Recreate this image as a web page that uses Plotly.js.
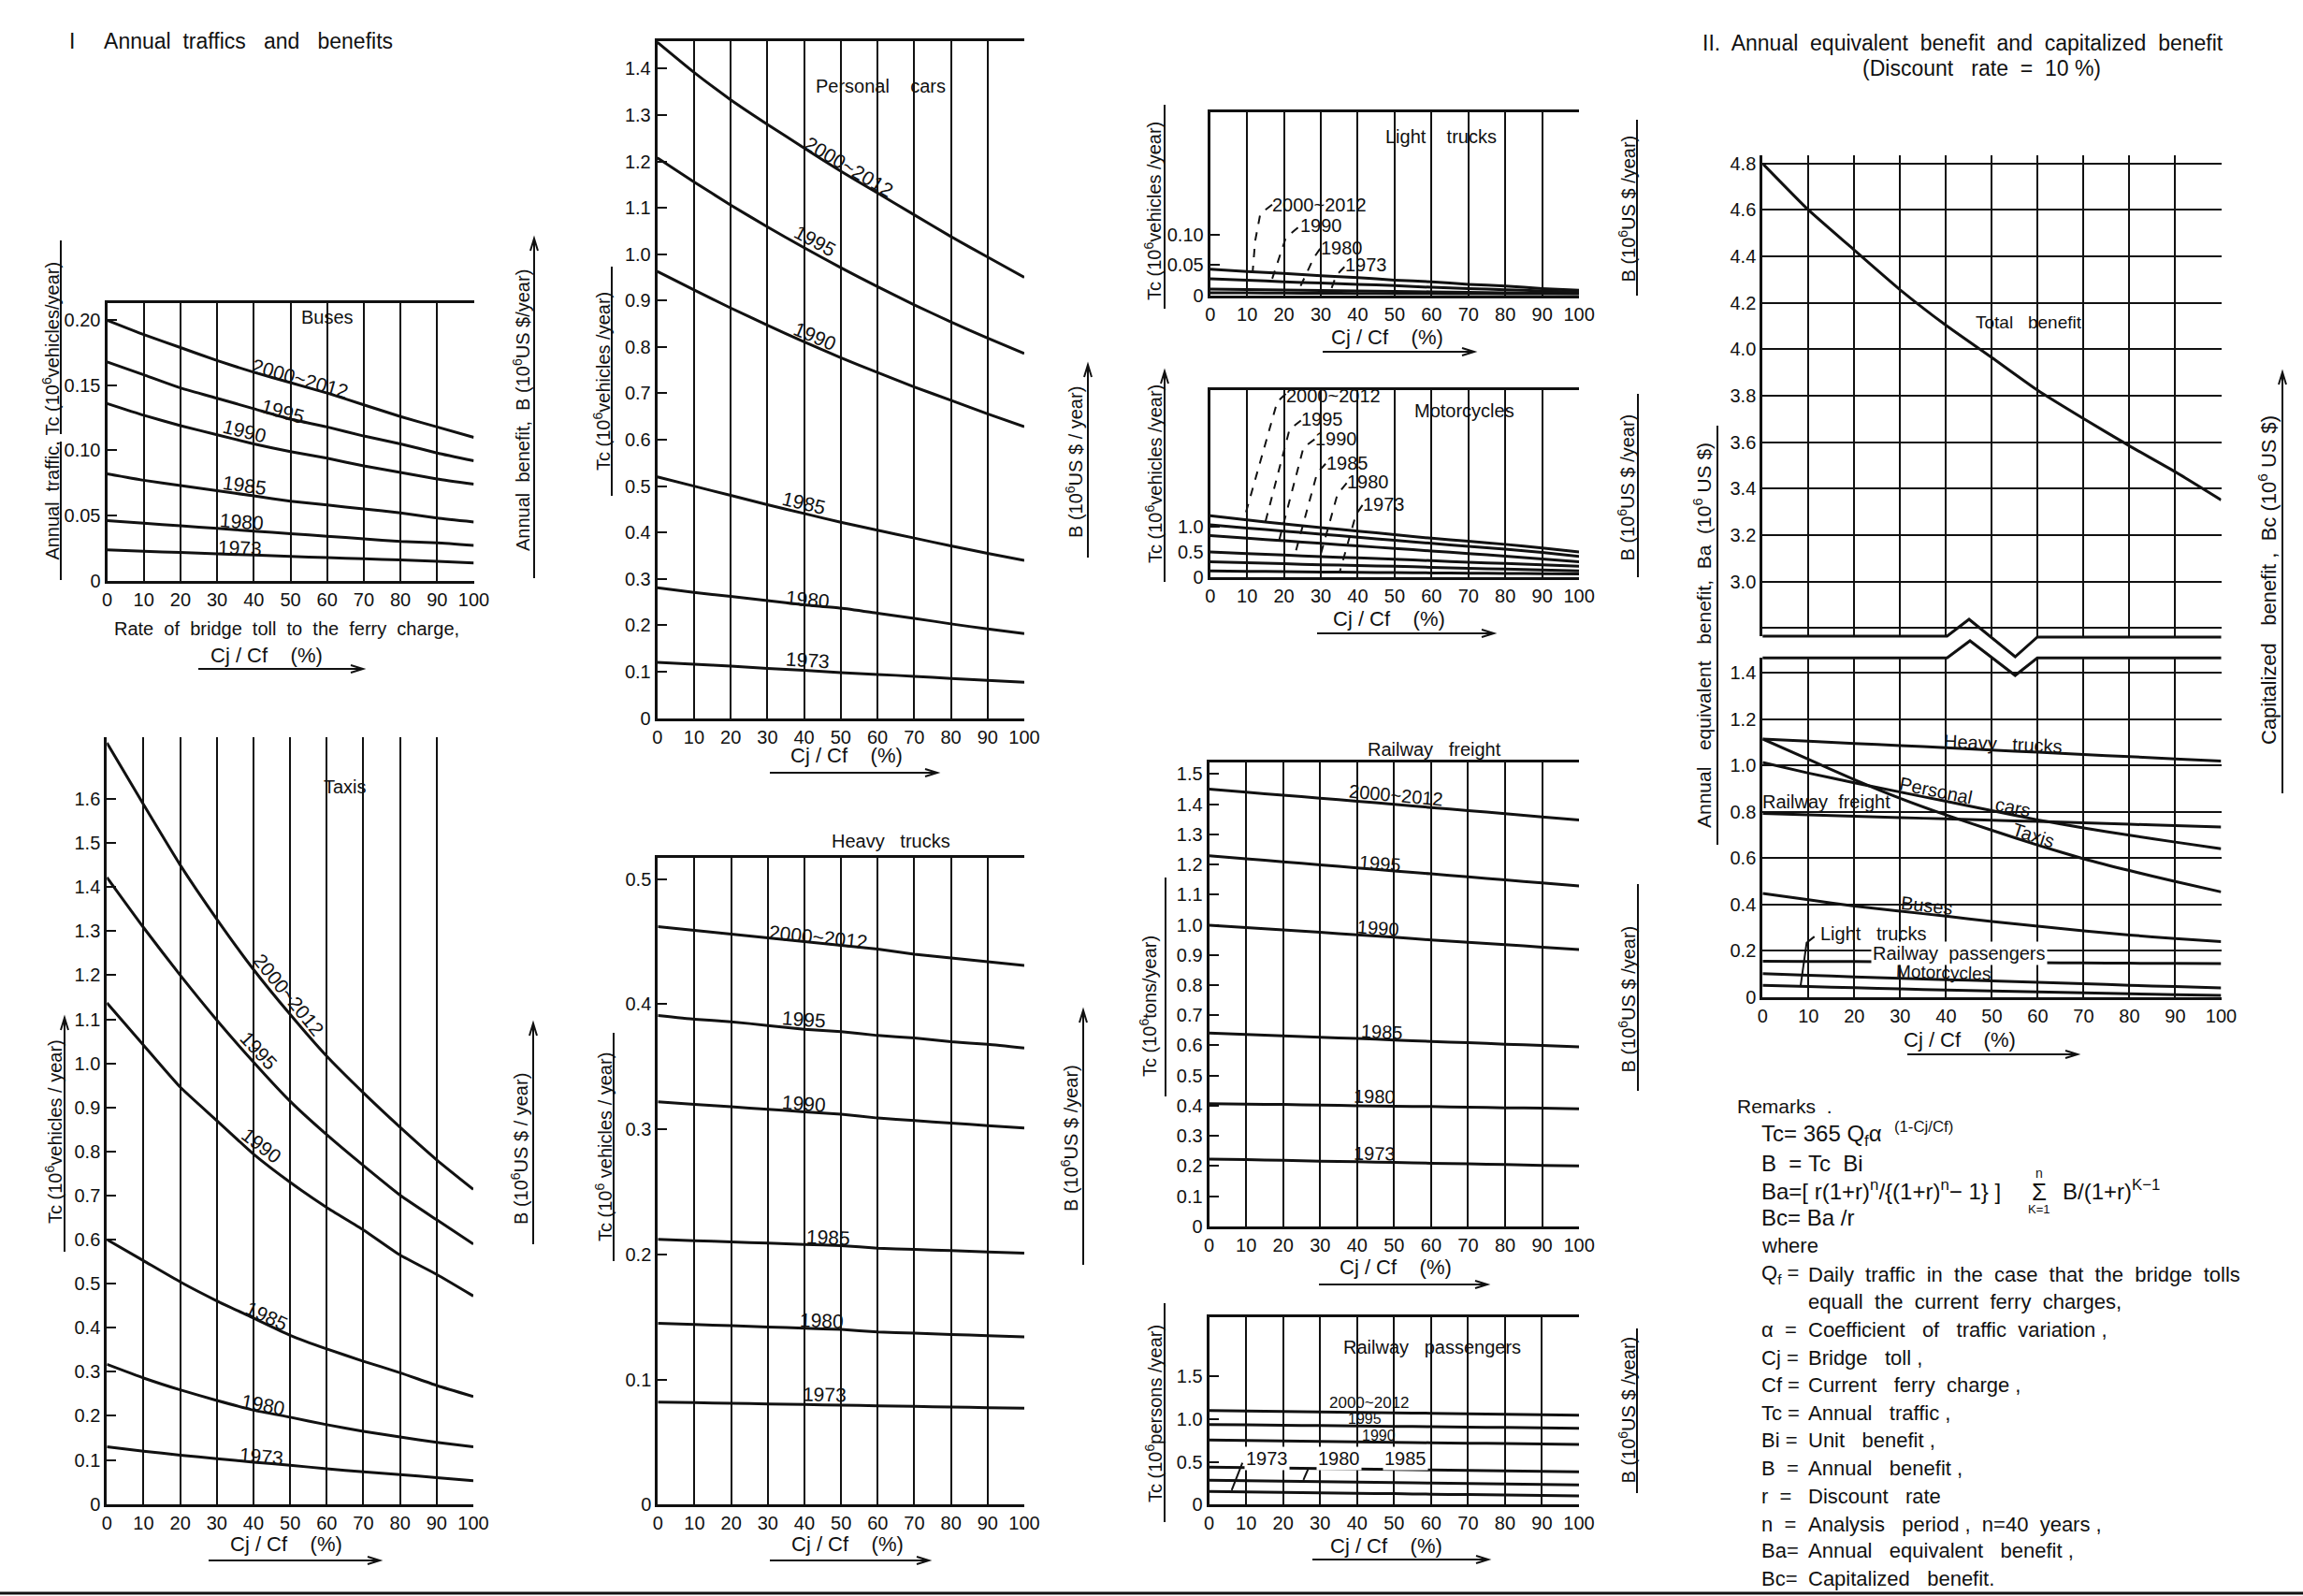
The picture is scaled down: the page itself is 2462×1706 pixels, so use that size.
<!DOCTYPE html>
<html><head><meta charset="utf-8">
<script src="https://cdn.plot.ly/plotly-3.0.1.min.js"></script>
<style>html,body{margin:0;padding:0;background:#fff}#chart{width:2462px;height:1706px}</style>
</head><body><div id="chart"></div>
<script>
// ================= DATA =================
const cjcf = [0,10,20,30,40,50,60,70,80,90,100];            // Cj/Cf (%)
const xTicks = [0,10,20,30,40,50,60,70,80,90,100];
const xTickText = ['0','10','20','30','40','50','60','70','80','90','100'];

// Buses, Tc (10^6 vehicles/year)
const bus2000 = [0.200,0.189,0.179,0.169,0.160,0.152,0.144,0.135,0.126,0.118,0.110];
const bus1995 = [0.168,0.158,0.148,0.140,0.132,0.124,0.118,0.111,0.105,0.098,0.092];
const bus1990 = [0.136,0.127,0.119,0.112,0.105,0.099,0.094,0.088,0.083,0.078,0.074];
const bus1985 = [0.082,0.077,0.073,0.069,0.065,0.061,0.058,0.055,0.052,0.048,0.045];
const bus1980 = [0.046,0.044,0.042,0.040,0.038,0.036,0.034,0.032,0.030,0.029,0.027];
const bus1973 = [0.0235,0.0225,0.0215,0.0205,0.0195,0.0185,0.0176,0.0167,0.0158,0.0147,0.0135];
const busTcTicks = [0,0.05,0.10,0.15,0.20];
const busTcText = ['0','0.05','0.10','0.15','0.20'];
const busBTicks = [0,0.2,0.4,0.6,0.8,1.0,1.2];
const busBText = ['0','0.2','0.4','0.6','0.8','1.0','1.2'];

// Taxis
const taxi2000 = [1.727,1.587,1.450,1.327,1.213,1.111,1.016,0.933,0.855,0.781,0.714];
const taxi1995 = [1.422,1.308,1.200,1.098,1.003,0.914,0.838,0.768,0.701,0.645,0.590];
const taxi1990 = [1.137,1.041,0.946,0.870,0.794,0.730,0.673,0.622,0.565,0.521,0.472];
const taxi1985 = [0.600,0.552,0.504,0.461,0.422,0.383,0.352,0.324,0.298,0.269,0.244];
const taxi1980 = [0.317,0.286,0.259,0.235,0.213,0.197,0.180,0.165,0.152,0.140,0.130];
const taxi1973 = [0.130,0.120,0.111,0.103,0.095,0.088,0.080,0.073,0.067,0.060,0.053];
const taxiTcTicks = [0,0.1,0.2,0.3,0.4,0.5,0.6,0.7,0.8,0.9,1.0,1.1,1.2,1.3,1.4,1.5,1.6];
const taxiTcText = ['0','0.1','0.2','0.3','0.4','0.5','0.6','0.7','0.8','0.9','1.0','1.1','1.2','1.3','1.4','1.5','1.6'];
const taxiBTicks = [0,0.2,0.4,0.6,0.8,1.0,1.2,1.4,1.6,1.8,2.0,2.2,2.4,2.6,2.8,3.0,3.2];
const taxiBText = ['0','0.2','0.4','0.6','0.8','1.0','1.2','1.4','1.6','1.8','2.0','2.2','2.4','2.6','2.8','3.0','3.2'];

// Personal cars
const car2000 = [1.457,1.392,1.333,1.280,1.229,1.179,1.132,1.085,1.038,0.994,0.950];
const car1995 = [1.208,1.156,1.106,1.059,1.014,0.971,0.930,0.891,0.854,0.819,0.786];
const car1990 = [0.963,0.923,0.884,0.847,0.811,0.777,0.745,0.714,0.685,0.656,0.628];
const car1985 = [0.520,0.500,0.480,0.460,0.441,0.422,0.405,0.388,0.371,0.355,0.340];
const car1980 = [0.281,0.271,0.262,0.253,0.244,0.237,0.226,0.215,0.203,0.192,0.182];
const car1973 = [0.120,0.116,0.112,0.107,0.103,0.098,0.094,0.090,0.085,0.081,0.077];
const carTcTicks = [0,0.1,0.2,0.3,0.4,0.5,0.6,0.7,0.8,0.9,1.0,1.1,1.2,1.3,1.4];
const carTcText = ['0','0.1','0.2','0.3','0.4','0.5','0.6','0.7','0.8','0.9','1.0','1.1','1.2','1.3','1.4'];
const carBTicks = [0,0.2,0.4,0.6,0.8,1.0,1.2,1.4,1.6,1.8,2.0,2.2,2.4,2.6,2.8];
const carBText = ['0','0.2','0.4','0.6','0.8','1.0','1.2','1.4','1.6','1.8','2.0','2.2','2.4','2.6','2.8'];

// Heavy trucks
const ht2000 = [0.462,0.459,0.456,0.453,0.450,0.447,0.444,0.440,0.437,0.434,0.431];
const ht1995 = [0.391,0.388,0.386,0.383,0.380,0.378,0.375,0.373,0.370,0.368,0.365];
const ht1990 = [0.322,0.320,0.318,0.316,0.314,0.312,0.309,0.307,0.305,0.303,0.301];
const ht1985 = [0.212,0.211,0.210,0.209,0.208,0.207,0.205,0.204,0.203,0.202,0.201];
const ht1980 = [0.145,0.144,0.143,0.142,0.141,0.140,0.138,0.137,0.136,0.135,0.134];
const ht1973 = [0.082,0.0815,0.081,0.0805,0.080,0.0795,0.079,0.0785,0.078,0.0775,0.077];
const htTcTicks = [0,0.1,0.2,0.3,0.4,0.5];
const htTcText = ['0','0.1','0.2','0.3','0.4','0.5'];
const htBTicks = [0,0.2,0.4,0.6,0.8,1.0,1.2,1.4,1.6,1.8,2.0,2.2,2.4,2.6];
const htBText = ['0','0.2','0.4','0.6','0.8','1.0','1.2','1.4','1.6','1.8','2.0','2.2','2.4','2.6'];

// Light trucks
const lt2000 = [0.043,0.039,0.036,0.032,0.029,0.025,0.022,0.018,0.015,0.011,0.008];
const lt1990 = [0.027,0.025,0.022,0.020,0.018,0.016,0.013,0.011,0.009,0.007,0.005];
const lt1980 = [0.010,0.0093,0.0085,0.0078,0.0070,0.0063,0.0055,0.0048,0.0040,0.0033,0.0025];
const lt1973 = [0.0040,0.0037,0.0034,0.0031,0.0028,0.0025,0.0022,0.0019,0.0016,0.0013,0.0010];
const ltTcTicks = [0,0.05,0.10];
const ltTcText = ['0','0.05','0.10'];
const ltBTicks = [0,0.2,0.4,0.6];
const ltBText = ['0','0.2','0.4','0.6'];

// Motorcycles
const mc2000 = [1.213,1.130,1.050,0.980,0.910,0.840,0.770,0.710,0.650,0.580,0.500];
const mc1995 = [1.033,0.970,0.910,0.850,0.790,0.730,0.670,0.610,0.555,0.490,0.413];
const mc1990 = [0.820,0.770,0.720,0.670,0.620,0.570,0.520,0.470,0.420,0.365,0.310];
const mc1985 = [0.500,0.470,0.440,0.410,0.385,0.360,0.330,0.300,0.275,0.250,0.220];
const mc1980 = [0.310,0.290,0.270,0.250,0.235,0.220,0.200,0.180,0.165,0.150,0.130];
const mc1973 = [0.130,0.122,0.115,0.108,0.102,0.096,0.090,0.085,0.080,0.075,0.070];
const mcTcTicks = [0,0.5,1.0];
const mcTcText = ['0','0.5','1.0'];
const mcBTicks = [0,0.2,0.4,0.6];
const mcBText = ['0','0.2','0.4','0.6'];

// Railway freight, Tc (10^6 tons/year)
const rf2000 = [1.450,1.440,1.430,1.420,1.410,1.400,1.389,1.379,1.369,1.358,1.348];
const rf1995 = [1.229,1.219,1.209,1.199,1.189,1.179,1.169,1.159,1.149,1.139,1.129];
const rf1990 = [0.999,0.991,0.983,0.975,0.967,0.959,0.950,0.942,0.934,0.926,0.918];
const rf1985 = [0.641,0.636,0.632,0.627,0.623,0.618,0.613,0.609,0.604,0.600,0.595];
const rf1980 = [0.407,0.405,0.404,0.402,0.400,0.398,0.397,0.395,0.393,0.392,0.390];
const rf1973 = [0.223,0.221,0.219,0.216,0.214,0.212,0.209,0.207,0.205,0.202,0.200];
const rfTcTicks = [0,0.1,0.2,0.3,0.4,0.5,0.6,0.7,0.8,0.9,1.0,1.1,1.2,1.3,1.4,1.5];
const rfTcText = ['0','0.1','0.2','0.3','0.4','0.5','0.6','0.7','0.8','0.9','1.0','1.1','1.2','1.3','1.4','1.5'];
const rfBTicks = [0,0.2,0.4,0.6,0.8,1.0,1.2,1.4,1.6,1.8,2.0];
const rfBText = ['0','0.2','0.4','0.6','0.8','1.0','1.2','1.4','1.6','1.8','2.0'];

// Railway passengers, Tc (10^6 persons/year)
const rp2000 = [1.102,1.096,1.091,1.085,1.080,1.075,1.069,1.064,1.058,1.053,1.047];
const rp1995 = [0.938,0.934,0.929,0.925,0.920,0.916,0.912,0.907,0.903,0.898,0.894];
const rp1990 = [0.755,0.750,0.745,0.740,0.735,0.730,0.724,0.719,0.714,0.709,0.704];
const rp1985 = [0.438,0.433,0.427,0.422,0.416,0.411,0.405,0.400,0.394,0.389,0.383];
const rp1980 = [0.285,0.280,0.274,0.269,0.263,0.258,0.252,0.247,0.241,0.236,0.230];
const rp1973 = [0.153,0.148,0.143,0.138,0.133,0.128,0.122,0.117,0.112,0.107,0.102];
const rpTcTicks = [0,0.5,1.0,1.5];
const rpTcText = ['0','0.5','1.0','1.5'];
const rpBTicks = [0,0.2,0.4,0.6];
const rpBText = ['0','0.2','0.4','0.6'];

// II. Annual equivalent benefit Ba (10^6 US$)
const baTotal = [4.800,4.600,4.427,4.256,4.103,3.964,3.823,3.701,3.584,3.472,3.351];
const baHeavy = [1.115,1.106,1.096,1.087,1.077,1.067,1.058,1.048,1.039,1.029,1.020];
const baTaxi  = [1.115,1.027,0.940,0.859,0.787,0.721,0.657,0.598,0.547,0.500,0.455];
const baCar   = [1.014,0.968,0.926,0.886,0.846,0.806,0.766,0.731,0.700,0.670,0.641];
const baRf    = [0.794,0.788,0.782,0.776,0.770,0.764,0.759,0.753,0.747,0.741,0.735];
const baBus   = [0.448,0.421,0.394,0.372,0.350,0.327,0.307,0.287,0.269,0.253,0.240];
const baRp    = [0.156,0.155,0.154,0.153,0.152,0.151,0.149,0.148,0.147,0.146,0.145];
const baMc    = [0.102,0.095,0.088,0.082,0.076,0.071,0.065,0.059,0.052,0.046,0.040];
const baLt    = [0.051,0.046,0.041,0.036,0.031,0.027,0.023,0.019,0.015,0.011,0.008];
const baTopTicks = [2.8,3.0,3.2,3.4,3.6,3.8,4.0,4.2,4.4,4.6,4.8];
const baTopText = ['','3.0','3.2','3.4','3.6','3.8','4.0','4.2','4.4','4.6','4.8'];
const bcTopTicks = [30,32,34,36,38,40,42,44,46];
const bcTopText = ['30','32','34','36','38','40','42','44','46'];
const baLowTicks = [0,0.2,0.4,0.6,0.8,1.0,1.2,1.4];
const baLowText = ['0','0.2','0.4','0.6','0.8','1.0','1.2','1.4'];
const bcLowTicks = [0,2,4,6,8,10,12,14];
const bcLowText = ['0','2','4','6','8','10','12','14'];

// ================= LAYOUT HELPERS =================
const W = 2462, H = 1706;
const fx = p => p / W;
const fy = p => 1 - p / H;
const FONT = '"Liberation Sans", Arial, sans-serif';
const INK = '#111';
const S = '\u00a0';

const traces = [];
const layout = {
  width: W, height: H, margin: {l:0, r:0, t:0, b:0},
  paper_bgcolor: '#fff', plot_bgcolor: 'rgba(0,0,0,0)', showlegend: false,
  font: {family: FONT, size: 20, color: INK},
  annotations: [], shapes: []
};

function ann(text, xp, yp, o) {
  layout.annotations.push(Object.assign({
    text: text, x: fx(xp), y: fy(yp), xref: 'paper', yref: 'paper', showarrow: false,
    xanchor: 'center', yanchor: 'middle', font: {family: FONT, size: 20, color: INK}
  }, o || {}));
}
function pathPx(pts, w) {
  const d = pts.map((p, i) => (i ? 'L' : 'M') + fx(p[0]) + ',' + fy(p[1])).join(' ');
  layout.shapes.push({type: 'path', xref: 'paper', yref: 'paper', path: d, line: {color: INK, width: w || 3}});
}
function arrowH(x1, x2, yp) {           // under-line of an x title, head on the right
  pathPx([[x1, yp], [x2, yp]], 2);
  pathPx([[x2 - 13, yp - 4], [x2, yp], [x2 - 13, yp + 4]], 2);
}
function lineV(xp, y1, y2, arrow) {     // under-line of a rotated y title, optional head on top
  pathPx([[xp, y1], [xp, y2]], 2);
  if (arrow) pathPx([[xp - 4, y2 + 13], [xp, y2], [xp + 4, y2 + 13]], 2);
}

function addPanel(k, p) {
  const xid = k === 1 ? 'x' : 'x' + k;
  const yl = 2 * k - 1, yr = 2 * k;
  const ylid = yl === 1 ? 'y' : 'y' + yl;
  const dom = [fy(p.B), fy(p.T)];
  const pxX = (p.R - p.L) / 100;
  const pxY = (p.B - p.T) / (p.lr[1] - p.lr[0]);
  layout[k === 1 ? 'xaxis' : 'xaxis' + k] = {
    domain: [fx(p.L), fx(p.R)], anchor: ylid, range: [0, 100],
    tickmode: 'array', tickvals: xTicks, ticktext: xTickText, showticklabels: p.xLabels !== false,
    showgrid: true, gridcolor: INK, gridwidth: 2,
    showline: p.xLine !== false, linecolor: INK, linewidth: 3, mirror: !!p.mirror,
    ticks: '', zeroline: false, fixedrange: true, tickfont: {size: 20, color: INK}
  };
  layout[yl === 1 ? 'yaxis' : 'yaxis' + yl] = {
    domain: dom, anchor: xid, range: p.lr, tickmode: 'array', tickvals: p.lt, ticktext: p.ltt,
    showgrid: !!p.lgrid, gridcolor: INK, gridwidth: 2,
    showline: true, linecolor: INK, linewidth: 3,
    ticks: 'inside', ticklen: 10, tickwidth: 2, tickcolor: INK,
    zeroline: false, fixedrange: true, tickfont: {size: 20, color: INK}
  };
  const ry = {
    domain: dom, anchor: xid, overlaying: ylid, side: 'right', range: p.rr,
    tickmode: 'array', tickvals: p.rt, ticktext: p.rtt,
    showgrid: !!p.rgrid, gridcolor: INK, gridwidth: 2,
    showline: true, linecolor: INK, linewidth: 3,
    ticks: 'inside', ticklen: 8, tickwidth: 2, tickcolor: INK,
    zeroline: false, fixedrange: true, tickfont: {size: 20, color: INK}
  };
  if (p.rminor) ry.minor = {ticks: 'inside', ticklen: 6, tickwidth: 2, tickcolor: INK, tickmode: 'linear', tick0: 0, dtick: p.rminor, showgrid: false};
  layout['yaxis' + yr] = ry;

  p.series.forEach(s => traces.push({
    x: cjcf, y: s, xaxis: xid, yaxis: ylid, mode: 'lines',
    line: {color: INK, width: 3, shape: 'spline', smoothing: 0.5}, hoverinfo: 'skip'
  }));
  (p.labels || []).forEach(l => {
    let ang = 0;
    if (l[3]) {
      const i = Math.min(9, Math.floor(l[1] / 10));
      const slope = (l[3][i + 1] - l[3][i]) / 10;
      ang = Math.atan(-slope * pxY / pxX) * 180 / Math.PI;
    }
    const a = {text: l[0], x: l[1], y: l[2], xref: xid, yref: ylid, showarrow: false,
      textangle: ang, font: {family: FONT, size: l[4] || 21, color: INK}};
    if (l[5]) { a.bgcolor = '#fff'; a.borderpad = 1; }
    layout.annotations.push(a);
  });
  (p.leaders || []).forEach(ld => {
    const d = ld.pts.map((q, i) => (i ? 'L' : 'M') + q[0] + ',' + q[1]).join(' ');
    layout.shapes.push({type: 'path', xref: xid, yref: ylid, path: d,
      line: {color: INK, width: 2, dash: ld.dash ? 'dash' : 'solid'}});
  });
}

// ================= PANELS =================
addPanel(1, { // Buses
  L: 114.5, R: 506.5, T: 323.5, B: 620.5, mirror: true,
  lr: [0, 0.2135], lt: busTcTicks, ltt: busTcText,
  rr: [0, 1.2], rt: busBTicks, rtt: busBText, rgrid: true, rminor: 0.1,
  series: [bus2000, bus1995, bus1990, bus1985, bus1980, bus1973],
  labels: [['Buses', 60, 0.2026, null, 20],
    ['2000~2012', 52.6, 0.155, bus2000], ['1995', 47.9, 0.130, bus1995], ['1990', 37.4, 0.115, bus1990],
    ['1985', 37.4, 0.073, bus1985], ['1980', 36.7, 0.045, bus1980], ['1973', 36.3, 0.025, bus1973]]
});
addPanel(2, { // Taxis
  L: 114.3, R: 506, T: 788, B: 1607.7,
  lr: [0, 1.74], lt: taxiTcTicks, ltt: taxiTcText,
  rr: [0, 3.322], rt: taxiBTicks, rtt: taxiBText, rgrid: true, rminor: 0.1,
  series: [taxi2000, taxi1995, taxi1990, taxi1985, taxi1980, taxi1973],
  labels: [['Taxis', 65, 1.628, null, 20],
    ['2000~2012', 49.7, 1.156, taxi2000], ['1995', 41.3, 1.029, taxi1995], ['1990', 42.2, 0.813, taxi1990],
    ['1985', 43.6, 0.428, taxi1985], ['1980', 42.7, 0.226, taxi1980], ['1973', 42.2, 0.108, taxi1973]]
});
addPanel(3, { // Personal cars
  L: 702.7, R: 1095, T: 43.7, B: 767.5, mirror: true,
  lr: [0, 1.46], lt: carTcTicks, ltt: carTcText,
  rr: [0, 2.92], rt: carBTicks, rtt: carBText, rgrid: true, rminor: 0.1,
  series: [car2000, car1995, car1990, car1985, car1980, car1973],
  labels: [['Personal' + S + S + S + ' cars', 60.9, 1.362, null, 20],
    ['2000~2012', 52.4, 1.189, car2000], ['1995', 43.1, 1.029, car1995], ['1990', 43.1, 0.824, car1990],
    ['1985', 39.9, 0.463, car1985], ['1980', 41.1, 0.257, car1980], ['1973', 41.1, 0.125, car1973]]
});
addPanel(4, { // Heavy trucks
  L: 703.3, R: 1095, T: 917, B: 1608.3, mirror: true,
  lr: [0, 0.517], lt: htTcTicks, ltt: htTcText,
  rr: [0, 2.79], rt: htBTicks, rtt: htBText, rgrid: true, rminor: 0.1,
  series: [ht2000, ht1995, ht1990, ht1985, ht1980, ht1973],
  labels: [['2000~2012', 43.8, 0.454, ht2000], ['1995', 40, 0.388, ht1995], ['1990', 40, 0.321, ht1990],
    ['1985', 46.4, 0.214, ht1985], ['1980', 44.7, 0.147, ht1980], ['1973', 45.5, 0.088, ht1973]]
});
addPanel(5, { // Light trucks
  L: 1293.7, R: 1688.1, T: 120.2, B: 315.5, mirror: true,
  lr: [0, 0.303], lt: ltTcTicks, ltt: ltTcText,
  rr: [0, 0.8], rt: ltBTicks, rtt: ltBText, rgrid: true, rminor: 0.1,
  series: [lt2000, lt1990, lt1980, lt1973],
  labels: [['Light' + S + S + S + ' trucks', 62.6, 0.263, null, 20],
    ['2000~2012', 29.5, 0.150, null, 20], ['1990', 30, 0.116, null, 20], ['1980', 35.7, 0.079, null, 20], ['1973', 42.3, 0.050, null, 20]],
  leaders: [
    {dash: true, pts: [[16.8, 0.150], [13.6, 0.135], [12.2, 0.090], [11.5, 0.037]]},
    {dash: true, pts: [[23.8, 0.112], [20.5, 0.095], [16.7, 0.025]]},
    {dash: true, pts: [[29.8, 0.077], [28.1, 0.062], [23.8, 0.006]]},
    {dash: true, pts: [[36.4, 0.047], [34.2, 0.033], [32.4, 0.003]]}]
});
addPanel(6, { // Motorcycles
  L: 1293.7, R: 1688.1, T: 417.3, B: 617.3, mirror: true,
  lr: [0, 3.67], lt: mcTcTicks, ltt: mcTcText,
  rr: [0, 0.8], rt: mcBTicks, rtt: mcBText, rgrid: true, rminor: 0.1,
  series: [mc2000, mc1995, mc1990, mc1985, mc1980, mc1973],
  labels: [['Motorcycles', 68.8, 3.27, null, 20],
    ['2000~2012', 33.3, 3.57, null, 20], ['1995', 30.5, 3.10, null, 20], ['1990', 34.2, 2.73, null, 20],
    ['1985', 37.1, 2.25, null, 20], ['1980', 42.8, 1.87, null, 20], ['1973', 47, 1.43, null, 20]],
  leaders: [
    {dash: true, pts: [[20.5, 3.60], [18.2, 3.45], [9.2, 1.15]]},
    {dash: true, pts: [[24.6, 3.08], [21.5, 2.90], [14.4, 0.93]]},
    {dash: true, pts: [[28.3, 2.71], [25.3, 2.55], [18.6, 0.70]]},
    {dash: true, pts: [[31.3, 2.23], [29.0, 2.05], [22.9, 0.43]]},
    {dash: true, pts: [[37.0, 1.85], [34.5, 1.63], [29.5, 0.33]]},
    {dash: true, pts: [[41.3, 1.42], [39.5, 1.23], [35.2, 0.13]]}]
});
addPanel(7, { // Railway freight
  L: 1292.6, R: 1688.1, T: 815.2, B: 1310.8, mirror: true,
  lr: [0, 1.538], lt: rfTcTicks, ltt: rfTcText,
  rr: [0, 2.0], rt: rfBTicks, rtt: rfBText, rgrid: true, rminor: 0.1,
  series: [rf2000, rf1995, rf1990, rf1985, rf1980, rf1973],
  labels: [['2000~2012', 50.5, 1.429, rf2000, 20], ['1995', 46.2, 1.203, rf1995, 20], ['1990', 45.8, 0.989, rf1990, 20],
    ['1985', 46.7, 0.645, rf1985, 20], ['1980', 44.8, 0.431, rf1980, 20], ['1973', 44.8, 0.241, rf1973, 20]]
});
addPanel(8, { // Railway passengers
  L: 1292.6, R: 1688, T: 1408.3, B: 1608.3, mirror: true,
  lr: [0, 2.19], lt: rpTcTicks, ltt: rpTcText,
  rr: [0, 0.811], rt: rpBTicks, rtt: rpBText, rgrid: true, rminor: 0.1,
  series: [rp2000, rp1995, rp1990, rp1985, rp1980, rp1973],
  labels: [['Railway' + S + S + ' passengers', 60.4, 1.84, null, 20],
    ['2000~2012', 43.4, 1.19, null, 17], ['1995', 42, 1.0, null, 16], ['1990', 45.8, 0.81, null, 16],
    ['1973', 15.7, 0.54, null, 20, true], ['1980', 35.1, 0.54, null, 20, true], ['1985', 53, 0.54, null, 20, true]],
  leaders: [
    {pts: [[9.0, 0.49], [6.1, 0.17]]},
    {pts: [[26.9, 0.43], [25.5, 0.29]]}]
});
addPanel(9, { // Total benefit (upper part of broken axis)
  L: 1884.3, R: 2374.5, T: 166, B: 680, xLine: false, xLabels: false,
  lr: [2.7646, 4.8354], lt: baTopTicks, ltt: baTopText, lgrid: true,
  rr: [27.646, 48.354], rt: bcTopTicks, rtt: bcTopText, rminor: 1,
  series: [baTotal],
  labels: [['Total' + S + S + ' benefit', 58.1, 4.115, null, 19]]
});
addPanel(10, { // Per-vehicle benefits (lower part)
  L: 1884.3, R: 2374.5, T: 703.3, B: 1066,
  lr: [0, 1.465], lt: baLowTicks, ltt: baLowText, lgrid: true,
  rr: [0, 14.65], rt: bcLowTicks, rtt: bcLowText, rminor: 1,
  series: [baHeavy, baTaxi, baCar, baRf, baBus, baRp, baMc, baLt],
  labels: [['Heavy' + S + S + ' trucks', 52.5, 1.094, baHeavy, 20], ['Personal', 37.7, 0.892, baCar, 20],
    ['cars', 54.7, 0.818, baCar, 20], ['Railway' + S + ' freight', 14, 0.845, null, 20],
    ['Taxis', 59.1, 0.697, baTaxi, 20], ['Buses', 35.9, 0.394, baBus, 20],
    ['Light' + S + S + ' trucks', 24.1, 0.273, null, 20],
    ['Railway' + S + ' passengers', 42.9, 0.188, null, 20, true],
    ['Motorcycles', 39.4, 0.108, baMc, 19]],
  leaders: [{pts: [[11.3, 0.262], [9.6, 0.235], [8.3, 0.051]]}]
});

// axis break (zigzag) between the two parts of panel II
pathPx([[1884.3, 680], [2081.5, 680], [2105, 662], [2154.3, 702], [2178, 681], [2374.5, 681]], 3);
pathPx([[1884.3, 703.3], [2081.5, 703.3], [2106, 685], [2154.3, 722], [2178, 703.3], [2374.5, 703.3]], 3);
// bottom frame of the sheet
pathPx([[0, 1703], [2462, 1703]], 3);

// ================= TEXTS =================
ann('I' + S + S + S + S + ' Annual' + S + ' traffics' + S + S + ' and' + S + S + ' benefits', 72, 44, {xanchor: 'left', font: {family: FONT, size: 23, color: INK}});
ann('II.' + S + ' Annual' + S + ' equivalent' + S + ' benefit' + S + ' and' + S + ' capitalized' + S + ' benefit', 2098, 46, {font: {family: FONT, size: 23, color: INK}});
ann('(Discount' + S + S + ' rate' + S + ' =' + S + ' 10 %)', 2118, 73, {font: {family: FONT, size: 23, color: INK}});
ann('Heavy' + S + S + ' trucks', 952, 899);
ann('Railway' + S + S + ' freight', 1533, 801);

// x-axis titles
const cjTitle = 'Cj' + S + '/' + S + 'Cf' + S + S + S + ' (%)';
const cjFont = {font: {family: FONT, size: 22, color: INK}};
ann('Rate' + S + ' of' + S + ' bridge' + S + ' toll' + S + ' to' + S + ' the' + S + ' ferry' + S + ' charge,', 306, 672);
ann(cjTitle, 284.5, 701, cjFont); arrowH(212, 388, 715);
ann(cjTitle, 306, 1650, cjFont); arrowH(223, 406, 1668);
ann(cjTitle, 905, 808, cjFont); arrowH(823, 1002, 826);
ann(cjTitle, 906, 1650, cjFont); arrowH(823, 993, 1668);
ann(cjTitle, 1483, 360, cjFont); arrowH(1414, 1576, 376);
ann(cjTitle, 1485, 661, cjFont); arrowH(1408, 1597, 677);
ann(cjTitle, 1492, 1354, cjFont); arrowH(1410, 1590, 1373);
ann(cjTitle, 1482, 1652, cjFont); arrowH(1403, 1591, 1667);
ann(cjTitle, 2095, 1111, cjFont); arrowH(2039, 2221, 1127);

// y-axis titles (rotated) with their under-lines
const v = {textangle: -90};
const sup6 = '10<sup>6</sup>';
ann('Annual' + S + ' traffic,' + S + 'Tc' + S + '(' + sup6 + 'vehicles/year)', 53.6, 439, v); lineV(65, 620, 472); lineV(65, 464, 257);
ann('Annual' + S + ' benefit,' + S + ' B' + S + '(' + sup6 + 'US' + S + '$/year)', 557, 439, v); lineV(571, 618, 255, true);
ann('Tc' + S + '(' + sup6 + 'vehicles' + S + '/' + S + 'year)', 57, 1210, v); lineV(69, 1338, 1088, true);
ann('B' + S + '(' + sup6 + 'US' + S + '$' + S + '/' + S + 'year)', 555, 1228, v); lineV(570, 1330, 1094, true);
ann('Tc' + S + '(' + sup6 + 'vehicles' + S + '/year)', 643, 408, v); lineV(654, 530, 285);
ann('B' + S + '(' + sup6 + 'US' + S + '$' + S + '/' + S + 'year)', 1149, 494, v); lineV(1163, 596, 390, true);
ann('Tc' + S + '(' + sup6 + S + 'vehicles' + S + '/' + S + 'year)', 645, 1226, v); lineV(656, 1348, 1104);
ann('B' + S + '(' + sup6 + 'US' + S + '$' + S + '/year)', 1143, 1217, v); lineV(1158, 1352, 1080, true);
ann('Tc' + S + '(' + sup6 + 'vehicles' + S + '/year)', 1233, 226, v); lineV(1245, 330, 112);
ann('B' + S + '(' + sup6 + 'US' + S + '$' + S + '/year)', 1738.5, 223, v); lineV(1750, 316, 128);
ann('Tc' + S + '(' + sup6 + 'vehicles' + S + '/year)', 1233, 507, v); lineV(1245, 622, 397, true);
ann('B' + S + '(' + sup6 + 'US' + S + '$' + S + '/year)', 1738.5, 521, v); lineV(1751, 617, 421);
ann('Tc' + S + '(' + sup6 + 'tons/year)', 1227, 1076, v); lineV(1246, 1172, 938);
ann('B' + S + '(' + sup6 + 'US' + S + '$' + S + '/year)', 1738.5, 1068, v); lineV(1751, 1166, 945);
ann('Tc' + S + '(' + sup6 + 'persons' + S + '/year)', 1233, 1511, v); lineV(1245, 1627, 1393);
ann('B' + S + '(' + sup6 + 'US' + S + '$' + S + '/year)', 1738.5, 1507, v); lineV(1750, 1596, 1420);
ann('Annual' + S + S + ' equivalent' + S + S + ' benefit,' + S + S + 'Ba' + S + S + '(' + sup6 + S + 'US' + S + '$)', 1820, 679, Object.assign({font: {family: FONT, size: 21, color: INK}}, v)); lineV(1836, 903, 455);
ann('Capitalized' + S + S + ' benefit' + S + ',' + S + S + 'Bc' + S + '(' + sup6 + S + 'US' + S + '$)', 2424, 620, Object.assign({font: {family: FONT, size: 22, color: INK}}, v)); lineV(2440, 848, 398, true);

// ================= REMARKS =================
const rf = sz => ({xanchor: 'left', font: {family: FONT, size: sz, color: INK}});
ann('Remarks' + S + ' .', 1855, 1182, rf(21));
ann('Tc=' + S + '365' + S + 'Q<sub>f</sub>\u03b1' + S + S + '<sup>(1-Cj/Cf)</sup>', 1881, 1212, rf(24));
ann('B' + S + ' =' + S + 'Tc' + S + S + 'Bi', 1881, 1243, rf(24));
ann('Ba=[' + S + 'r(1+r)<sup>n</sup>/{(1+r)<sup>n</sup>\u2212' + S + '1}' + S + ']', 1881, 1272, rf(24));
ann('\u03a3', 2180, 1274, {font: {family: FONT, size: 26, color: INK}});
ann('n', 2180, 1254, {font: {family: FONT, size: 14, color: INK}});
ann('K=1', 2180, 1292, {font: {family: FONT, size: 13, color: INK}});
ann('B/(1+r)<sup>K\u22121</sup>', 2203, 1272, rf(24));
ann('Bc=' + S + 'Ba' + S + '/r', 1881, 1301, rf(24));
ann('where', 1881, 1331, rf(22));
const defs = [
  ['Q<sub>f</sub>' + S + '=', 'Daily' + S + ' traffic' + S + ' in' + S + ' the' + S + ' case' + S + ' that' + S + ' the' + S + ' bridge' + S + ' tolls', 1362],
  ['', 'equall' + S + ' the' + S + ' current' + S + ' ferry' + S + ' charges,', 1391],
  ['\u03b1' + S + S + '=', 'Coefficient' + S + S + ' of' + S + S + ' traffic' + S + ' variation' + S + ',', 1421],
  ['Cj' + S + '=', 'Bridge' + S + S + ' toll' + S + ',', 1451],
  ['Cf' + S + '=', 'Current' + S + S + ' ferry' + S + ' charge' + S + ',', 1480],
  ['Tc' + S + '=', 'Annual' + S + S + ' traffic' + S + ',', 1510],
  ['Bi' + S + '=', 'Unit' + S + S + ' benefit' + S + ',', 1539],
  ['B' + S + S + '=', 'Annual' + S + S + ' benefit' + S + ',', 1569],
  ['r' + S + S + '=', 'Discount' + S + S + ' rate', 1599],
  ['n' + S + S + '=', 'Analysis' + S + S + ' period' + S + ',' + S + S + 'n=40' + S + ' years' + S + ',', 1629],
  ['Ba=', 'Annual' + S + S + ' equivalent' + S + S + ' benefit' + S + ',', 1657],
  ['Bc=', 'Capitalized' + S + S + ' benefit.', 1687]
];
defs.forEach(d => { if (d[0]) ann(d[0], 1881, d[2], rf(22)); ann(d[1], 1931, d[2], rf(22)); });

Plotly.newPlot('chart', traces, layout, {staticPlot: true, displayModeBar: false});
</script>
</body></html>
